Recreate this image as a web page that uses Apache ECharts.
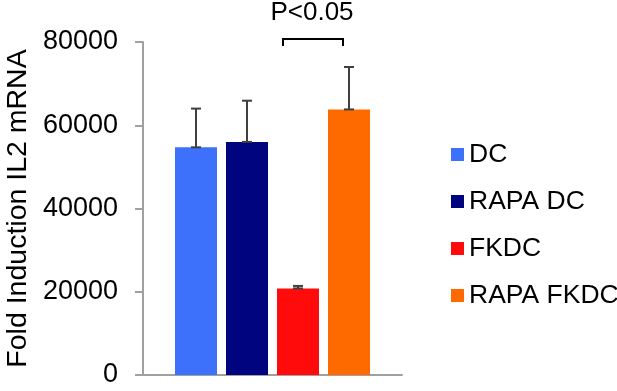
<!DOCTYPE html>
<html>
<head>
<meta charset="utf-8">
<script src="https://cdn.jsdelivr.net/npm/echarts@6/dist/echarts.min.js"></script>
<style>
  html, body { margin: 0; padding: 0; background: #fff; }
  #chart { width: 617px; height: 391px; }
</style>
</head>
<body>
<div id="chart"></div>
<script>
// 数据
const groups = ['DC', 'RAPA DC', 'FKDC', 'RAPA FKDC']
const means = [54700, 56000, 20800, 63800]
const errUpper = [64000, 65900, 21400, 74000]
const colors = ['#3d70fb', '#00057f', '#ff0b0b', '#ff6a00']
const yTicks = [0, 20000, 40000, 60000, 80000]

const BAR_W = 42
const BAR_GAP = 9
const FONT = 'Liberation Sans, Arial, sans-serif'

const chart = echarts.init(document.getElementById('chart'))

// 每个分组一个柱系列，共用一个类目
const barSeries = groups.map((g, i) => ({
  name: g,
  type: 'bar',
  barWidth: BAR_W,
  barGap: (BAR_GAP / BAR_W * 100) + '%',
  itemStyle: { color: colors[i] },
  data: [means[i]],
  z: 2,
}))

// 误差线（向上）
const errSeries = {
  name: 'err',
  type: 'custom',
  z: 5,
  data: groups.map((g, i) => [i, means[i], errUpper[i]]),
  renderItem: (params, api) => {
    const i = api.value(0)
    const off = (i - 1.5) * (BAR_W + BAR_GAP)
    const lo = api.coord([0, api.value(1)])
    const hi = api.coord([0, api.value(2)])
    const x = lo[0] + off
    const cap = 5
    const style = { stroke: '#404040', lineWidth: 2 }
    return {
      type: 'group',
      children: [
        { type: 'line', shape: { x1: x, y1: lo[1], x2: x, y2: hi[1] }, style },
        { type: 'line', shape: { x1: x - cap, y1: hi[1], x2: x + cap, y2: hi[1] }, style },
        { type: 'line', shape: { x1: x - cap, y1: lo[1], x2: x + cap, y2: lo[1] }, style },
      ],
    }
  },
}

chart.setOption({
  animation: false,
  backgroundColor: '#fff',
  grid: { left: 143, right: 215, top: 42, bottom: 16 },
  legend: {
    data: groups,
    orient: 'vertical',
    left: 446,
    top: 136,
    itemWidth: 13,
    itemHeight: 13,
    itemGap: 20,
    icon: 'rect',
    textStyle: { fontSize: 26.5, fontFamily: FONT, color: '#000', lineHeight: 27 },
  },
  xAxis: {
    type: 'category',
    data: [''],
    axisLine: { lineStyle: { color: '#a0a0a0', width: 2 } },
    axisTick: { show: false },
    axisLabel: { show: false },
  },
  yAxis: {
    type: 'value',
    min: yTicks[0],
    max: yTicks[yTicks.length - 1],
    interval: yTicks[1] - yTicks[0],
    name: 'Fold Induction IL2 mRNA',
    nameLocation: 'middle',
    nameRotate: 90,
    nameGap: 110,
    nameTextStyle: { fontSize: 28.5, fontFamily: FONT, color: '#000' },
    axisLine: { show: true, lineStyle: { color: '#a0a0a0', width: 2 } },
    axisTick: { show: true, length: 8, lineStyle: { color: '#a0a0a0', width: 2 } },
    axisLabel: {
      margin: 25,
      fontSize: 27,
      fontFamily: FONT,
      color: '#000',
      formatter: (v) => String(v),
    },
    splitLine: { show: false },
  },
  graphic: [
    // 显著性标注
    {
      type: 'polyline',
      shape: { points: [[283, 46], [283, 39], [343, 39], [343, 46]] },
      style: { stroke: '#000', lineWidth: 2, fill: null },
    },
    {
      type: 'text',
      x: 312,
      y: 13,
      style: {
        text: 'P<0.05',
        fontSize: 26,
        fontFamily: FONT,
        fill: '#000',
        align: 'center',
        verticalAlign: 'middle',
      },
    },
  ],
  series: [...barSeries, errSeries],
})
</script>
</body>
</html>
